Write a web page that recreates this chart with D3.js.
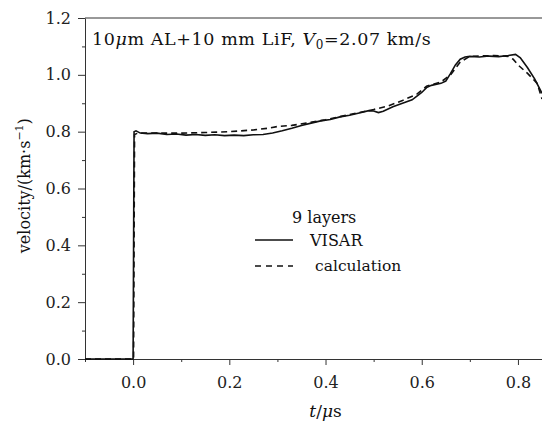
<!DOCTYPE html>
<html lang="en">
<head>
  <meta charset="UTF-8">
  <title>VISAR vs calculation</title>
  <script src="https://d3js.org/d3.v7.min.js"></script>
  <style>
    body { margin: 0; background: #fff; }
    svg { display: block; background: #fff; }
    text { font-family: 'DejaVu Serif', 'Liberation Serif', serif; }
    .axis text { font-size: 16px; fill: #222; }
    .axis path, .axis line { stroke: #333; }
    .curve { fill: none; stroke: #111; stroke-width: 1.6; }
  </style>
</head>
<body>
<script>
  // time in microseconds, velocity in km/s
  const visarT = [-0.1, -0.005, 0.0, 0.002, 0.006, 0.015, 0.03, 0.05, 0.07, 0.09, 0.11, 0.13, 0.15, 0.17, 0.19,
    0.21, 0.23, 0.25, 0.27, 0.29, 0.31, 0.33, 0.35, 0.37, 0.39, 0.41, 0.43, 0.45, 0.47, 0.49, 0.50, 0.51, 0.52,
    0.54, 0.56, 0.58, 0.59, 0.60, 0.61, 0.62, 0.64, 0.65, 0.66, 0.67, 0.68, 0.69, 0.70, 0.72, 0.74, 0.76, 0.78,
    0.795, 0.805, 0.82, 0.835, 0.85];
  const visarV = [0, 0, 0, 0.80, 0.803, 0.795, 0.793, 0.795, 0.790, 0.792, 0.788, 0.790, 0.787, 0.789, 0.786,
    0.788, 0.786, 0.789, 0.790, 0.795, 0.803, 0.812, 0.822, 0.830, 0.838, 0.843, 0.852, 0.858, 0.866, 0.874, 0.873, 0.867, 0.872,
    0.888, 0.900, 0.912, 0.925, 0.938, 0.955, 0.963, 0.970, 0.978, 1.005, 1.035, 1.055, 1.063, 1.065, 1.063, 1.066, 1.064, 1.068,
    1.072, 1.060, 1.025, 0.985, 0.935];

  const calcT = [-0.1, -0.002, 0.001, 0.003, 0.01, 0.05, 0.10, 0.15, 0.20, 0.25, 0.28, 0.30, 0.33, 0.36, 0.40,
    0.45, 0.50, 0.53, 0.56, 0.59, 0.61, 0.64, 0.66, 0.68, 0.70, 0.75, 0.78, 0.79, 0.80, 0.82, 0.84, 0.85];
  const calcV = [0, 0, 0, 0.79, 0.795, 0.795, 0.795, 0.797, 0.800, 0.806, 0.812, 0.818, 0.822, 0.830, 0.842,
    0.860, 0.878, 0.890, 0.910, 0.932, 0.960, 0.975, 1.000, 1.045, 1.065, 1.068, 1.065, 1.055, 1.035, 1.005, 0.970, 0.915];

  const xTicks = [0.0, 0.2, 0.4, 0.6, 0.8];
  const xMinor = [-0.1, 0.1, 0.3, 0.5, 0.7];
  const yTicks = [0.0, 0.2, 0.4, 0.6, 0.8, 1.0, 1.2];
  const yMinor = [0.1, 0.3, 0.5, 0.7, 0.9, 1.1];

  const serif = "'DejaVu Serif', 'Liberation Serif', serif";
  const width = 542, height = 423;
  const margin = { top: 18, right: 0, bottom: 64, left: 85 };

  const x = d3.scaleLinear().domain([-0.1, 0.85]).range([margin.left, width - margin.right]);
  const y = d3.scaleLinear().domain([0, 1.2]).range([height - margin.bottom, margin.top]);

  const svg = d3.select("body").append("svg")
    .attr("width", width)
    .attr("height", height)
    .attr("font-family", serif);

  svg.append("defs").append("clipPath").attr("id", "plot")
    .append("rect")
    .attr("x", margin.left).attr("y", margin.top - 2)
    .attr("width", width - margin.left).attr("height", height - margin.bottom - margin.top + 4);

  // axes
  svg.append("g")
    .attr("class", "axis")
    .attr("transform", `translate(0,${height - margin.bottom})`)
    .call(d3.axisBottom(x).tickValues(xTicks).tickFormat(d3.format(".1f")).tickSize(6).tickSizeOuter(0).tickPadding(9))
    .call(g => g.attr("font-family", serif).selectAll(".tick text").attr("dy", "0.9em"));

  svg.append("g")
    .attr("class", "axis")
    .attr("transform", `translate(0,${height - margin.bottom})`)
    .call(d3.axisBottom(x).tickValues(xMinor).tickFormat("").tickSize(3).tickSizeOuter(0))
    .call(g => g.select(".domain").remove());

  svg.append("g")
    .attr("class", "axis")
    .attr("transform", `translate(${margin.left},0)`)
    .call(d3.axisLeft(y).tickValues(yTicks).tickFormat(d3.format(".1f")).tickSize(7).tickSizeOuter(0).tickPadding(7))
    .call(g => g.attr("font-family", serif));

  svg.append("g")
    .attr("class", "axis")
    .attr("transform", `translate(${margin.left},0)`)
    .call(d3.axisLeft(y).tickValues(yMinor).tickFormat("").tickSize(3).tickSizeOuter(0))
    .call(g => g.select(".domain").remove());

  // top frame line
  svg.append("line")
    .attr("x1", margin.left).attr("x2", width)
    .attr("y1", y(1.2)).attr("y2", y(1.2))
    .attr("stroke", "#333");

  const line = d3.line().x(d => x(d[0])).y(d => y(d[1]));
  const visar = visarT.map((t, i) => [t, visarV[i]]);
  const calc = calcT.map((t, i) => [t, calcV[i]]);

  const plot = svg.append("g").attr("clip-path", "url(#plot)");
  plot.append("path").attr("class", "curve").attr("d", line(visar));
  plot.append("path").attr("class", "curve").attr("stroke-dasharray", "6,4").attr("d", line(calc));

  // title inside plot
  const title = svg.append("text")
    .attr("x", margin.left + 7).attr("y", 45)
    .attr("font-size", 17.5).attr("letter-spacing", 0.6).attr("fill", "#111");
  title.append("tspan").text("10");
  title.append("tspan").attr("font-style", "italic").text("μ");
  title.append("tspan").text("m AL+10 mm LiF, ");
  title.append("tspan").attr("font-style", "italic").text("V");
  title.append("tspan").attr("font-size", 12).attr("dy", 4).text("0");
  title.append("tspan").attr("dy", -4).text("=2.07 km/s");

  // legend
  const lx = 255;
  svg.append("text").attr("x", 292).attr("y", 223).attr("font-size", 16).attr("fill", "#111").text("9 layers");
  svg.append("line").attr("x1", lx).attr("x2", lx + 38).attr("y1", 240).attr("y2", 240)
    .attr("stroke", "#111").attr("stroke-width", 1.4);
  svg.append("text").attr("x", 310).attr("y", 246).attr("font-size", 16).attr("fill", "#111").text("VISAR");
  svg.append("line").attr("x1", lx).attr("x2", lx + 38).attr("y1", 266).attr("y2", 266)
    .attr("stroke", "#111").attr("stroke-width", 1.4).attr("stroke-dasharray", "6,5");
  svg.append("text").attr("x", 315).attr("y", 271).attr("font-size", 15.5).attr("fill", "#111").text("calculation");

  // axis labels
  const xl = svg.append("text")
    .attr("x", (x(0.35) + x(0.45)) / 2).attr("y", 417)
    .attr("text-anchor", "middle").attr("font-size", 17).attr("fill", "#111");
  xl.append("tspan").attr("font-style", "italic").text("t");
  xl.append("tspan").text("/");
  xl.append("tspan").attr("font-style", "italic").text("μ");
  xl.append("tspan").text("s");

  const yl = svg.append("text")
    .attr("transform", `translate(30,${y(0.61)}) rotate(-90)`)
    .attr("text-anchor", "middle").attr("font-size", 16).attr("fill", "#111");
  yl.append("tspan").text("velocity/(km·s");
  yl.append("tspan").attr("font-size", 11).attr("dy", -7).text("−1");
  yl.append("tspan").attr("dy", 7).text(")");
</script>
</body>
</html>
